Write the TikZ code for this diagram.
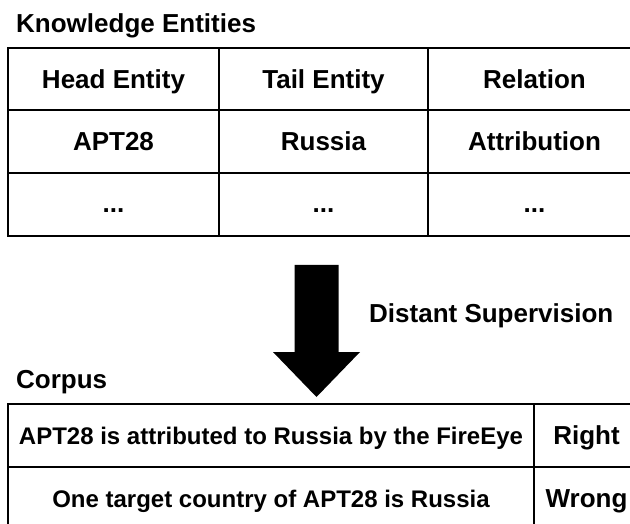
\documentclass[tikz,border=0pt]{standalone}
\usepackage{fontspec}
\setmainfont{Liberation Sans}
\begin{document}
\begin{tikzpicture}[x=1pt,y=-1pt,
  txt/.style={font=\bfseries\fontsize{26}{30}\selectfont, inner sep=0pt, anchor=base},
  sent/.style={font=\bfseries\fontsize{24}{28}\selectfont, inner sep=0pt, anchor=base},
  title/.style={font=\bfseries\fontsize{26}{30}\selectfont, inner sep=0pt, anchor=base west},
  rule/.style={line width=2pt, draw=black, line cap=rect},
  bigarrow/.style={fill=black, draw=none}]
\useasboundingbox (0,0) rectangle (630,524);
\clip (0,0) rectangle (630,524);

% titles
\node[title] (kt) at (16,33) {Knowledge Entities};
\node[title] (ct) at (16,388) {Corpus};
\node[title] (ds) at (369,323) {Distant Supervision};

% top table grid
\draw[rule] (660,48) -- (8,48) -- (8,236) -- (660,236);
\draw[rule] (8,110) -- (660,110);
\draw[rule] (8,173) -- (660,173);
\draw[rule] (219,48) -- (219,236);
\draw[rule] (428,48) -- (428,236);

% top table text
\node[txt] (h1) at (113.5,88.3) {Head Entity};
\node[txt] (h2) at (323.5,88.3) {Tail Entity};
\node[txt] (h3) at (534.5,88.3) {Relation};
\node[txt] (r1) at (113.5,150.8) {APT28};
\node[txt] (r2) at (323.5,150.8) {Russia};
\node[txt] (r3) at (534.5,150.8) {Attribution};
\node[txt] (d1) at (113.5,212.5) {...};
\node[txt] (d2) at (323.5,212.5) {...};
\node[txt] (d3) at (534.5,212.5) {...};

% arrow
\fill[bigarrow] (294.5,265) -- (338.5,265) -- (338.5,352) -- (360,352)
  -- (316.5,397) -- (273,352) -- (294.5,352) -- cycle;

% bottom table grid
\draw[rule] (660,404) -- (8,404) -- (8,540);
\draw[rule] (8,467) -- (660,467);
\draw[rule] (8,530) -- (660,530);
\draw[rule] (534,404) -- (534,540);

% bottom table text
\node[sent] (s1) at (271,444) {APT28 is attributed to Russia by the FireEye};
\node[txt] (l1) at (586.5,444.8) {Right};
\node[sent] (s2) at (271,507) {One target country of APT28 is Russia};
\node[txt] (l2) at (586.5,507.5) {Wrong};
\end{tikzpicture}
\end{document}
